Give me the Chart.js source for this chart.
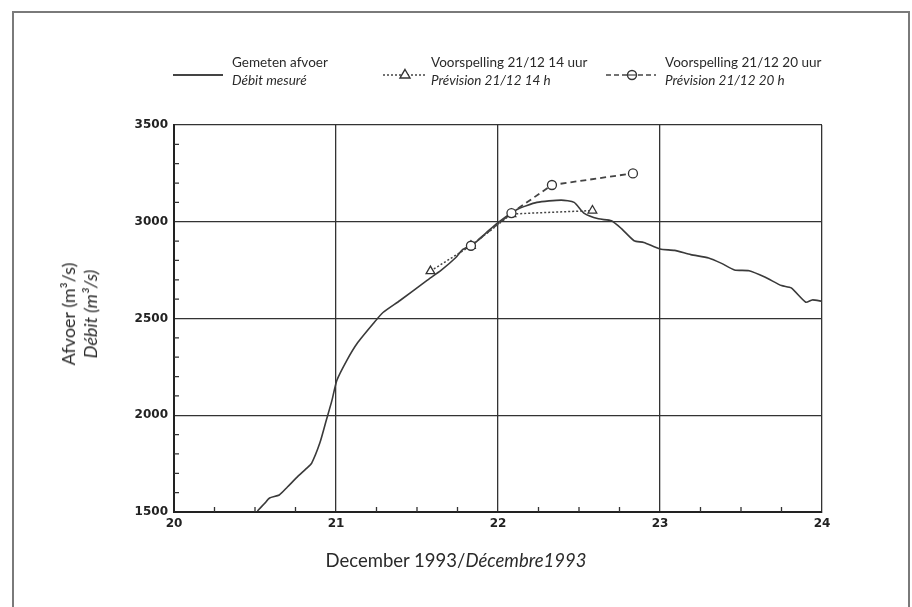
<!DOCTYPE html>
<html>
<head>
<meta charset="utf-8">
<script src="https://cdn.jsdelivr.net/npm/chart.js@4/dist/chart.umd.min.js"></script>
<style>
  body { margin: 0; background: #fff; }
  #wrap { position: relative; width: 912px; height: 607px; overflow: hidden; font-family: 'Lato', 'Open Sans', sans-serif; color: #2a2a2a; }
  #frame { position: absolute; left: 12px; top: 11px; width: 898px; height: 620px; border: 2px solid #7a7a7a; border-bottom: none; box-sizing: border-box; }
  canvas { position: absolute; left: 0; top: 0; }
  .legend-text { position: absolute; font-size: 13.5px; line-height: 18px; white-space: nowrap; }
  .legend-text i { font-style: italic; }
  .sample { position: absolute; }
  #xtitle { position: absolute; top: 549px; left: 0; width: 912px; text-align: center; font-size: 18.5px; }
  #ytitle { position: absolute; left: 79px; top: 314px; transform: translate(-50%, -50%) rotate(-90deg); font-size: 18px; line-height: 22px; text-align: center; white-space: nowrap; }
</style>
</head>
<body>
<div id="wrap">
  <div id="frame"></div>
  <canvas id="chart" width="912" height="607"></canvas>

  <!-- legend -->
  <svg class="sample" style="left:172px;top:68px" width="52" height="14">
    <line x1="1" y1="7" x2="51" y2="7" stroke="#444" stroke-width="2"/>
  </svg>
  <div class="legend-text" style="left:232px;top:53px">Gemeten afvoer<br><i>Débit mesuré</i></div>

  <svg class="sample" style="left:382px;top:66px" width="46" height="16">
    <line x1="1" y1="9" x2="45" y2="9" stroke="#444" stroke-width="1.4" stroke-dasharray="2,2"/>
    <polygon points="23,3.5 28,12 18,12" fill="#fff" stroke="#333" stroke-width="1.4"/>
  </svg>
  <div class="legend-text" style="left:431px;top:53px">Voorspelling 21/12 14 uur<br><i>Prévision 21/12 14 h</i></div>

  <svg class="sample" style="left:605px;top:66px" width="52" height="16">
    <line x1="1" y1="9" x2="51" y2="9" stroke="#444" stroke-width="1.6" stroke-dasharray="5,3"/>
    <circle cx="27" cy="9" r="4.5" fill="#fff" stroke="#333" stroke-width="1.4"/>
    <line x1="22.5" y1="9" x2="31.5" y2="9" stroke="#444" stroke-width="1.2"/>
  </svg>
  <div class="legend-text" style="left:665px;top:53px">Voorspelling 21/12 20 uur<br><i>Prévision 21/12 20 h</i></div>

  <div id="ytitle">Afvoer (m³/s)<br><i>Débit (m³/s)</i></div>
  <div id="xtitle">December 1993/<i>Décembre1993</i></div>
</div>

<script>
// measured discharge (day of December 1993, m3/s)
const measuredDays = [20.515, 20.56, 20.59, 20.65, 20.70, 20.76, 20.82, 20.85, 20.90, 20.94,
  20.975, 21.005, 21.067, 21.13, 21.23, 21.29, 21.395, 21.56, 21.65, 21.74,
  21.78, 21.85, 21.93, 22.0, 22.12, 22.24, 22.39, 22.47, 22.53, 22.62,
  22.70, 22.76, 22.84, 22.90, 23.0, 23.09, 23.19, 23.30, 23.38, 23.46,
  23.55, 23.65, 23.75, 23.81, 23.90, 23.94, 24.0];
const measuredFlow = [1505, 1545, 1572, 1588, 1629, 1680, 1727, 1753, 1856, 1974,
  2077, 2180, 2284, 2371, 2474, 2531, 2593, 2696, 2750, 2815,
  2855, 2885, 2945, 2996, 3065, 3100, 3112, 3100, 3045, 3015,
  3005, 2966, 2902, 2893, 2859, 2852, 2830, 2813, 2785, 2751,
  2747, 2713, 2670, 2658, 2584, 2596, 2589];

// forecast 21/12 14h
const fc14Days = [21.583, 21.833, 22.083, 22.583];
const fc14Flow = [2745, 2876, 3040, 3058];

// forecast 21/12 20h
const fc20Days = [21.833, 22.083, 22.333, 22.833];
const fc20Flow = [2876, 3045, 3190, 3250];

// axis ticks
const xTicks = [20, 21, 22, 23, 24];
const yTicks = [1500, 2000, 2500, 3000, 3500];
const xMinorStep = 0.25;
const yMinorStep = 100;

function toPoints(xs, ys) {
    return xs.map((x, i) => ({ x: x, y: ys[i] }));
}

const tickFont = { family: 'DejaVu Sans', size: 12, weight: 'bold' };

// small inward minor ticks along the left and bottom axes
const minorTicks = {
    id: 'minorTicks',
    afterDraw(chart) {
        const ctx = chart.ctx;
        const xs = chart.scales.x;
        const ys = chart.scales.y;
        const area = chart.chartArea;
        ctx.save();
        ctx.strokeStyle = '#333';
        ctx.lineWidth = 1.3;
        ctx.beginPath();
        for (let v = xs.min + xMinorStep; v < xs.max; v += xMinorStep) {
            if (Math.abs(v - Math.round(v)) < 1e-6) continue;
            const px = xs.getPixelForValue(v);
            ctx.moveTo(px, area.bottom);
            ctx.lineTo(px, area.bottom - 5);
        }
        for (let v = ys.min + yMinorStep; v < ys.max; v += yMinorStep) {
            if (v % 500 === 0) continue;
            const py = ys.getPixelForValue(v);
            ctx.moveTo(area.left, py);
            ctx.lineTo(area.left + 5, py);
        }
        ctx.stroke();
        ctx.restore();
    }
};

const ctx = document.getElementById('chart').getContext('2d');
new Chart(ctx, {
    type: 'line',
    data: {
        datasets: [
            {
                label: 'Gemeten afvoer',
                data: toPoints(measuredDays, measuredFlow),
                borderColor: '#3a3a3a',
                borderWidth: 1.6,
                pointRadius: 0,
                tension: 0.2,
                order: 3
            },
            {
                label: 'Voorspelling 21/12 14 uur',
                data: toPoints(fc14Days, fc14Flow),
                borderColor: '#444',
                borderWidth: 1.5,
                borderDash: [2, 2],
                pointStyle: 'triangle',
                pointRadius: 5,
                pointBackgroundColor: '#fff',
                pointBorderColor: '#333',
                pointBorderWidth: 1.3,
                tension: 0,
                order: 2
            },
            {
                label: 'Voorspelling 21/12 20 uur',
                data: toPoints(fc20Days, fc20Flow),
                borderColor: '#444',
                borderWidth: 1.8,
                borderDash: [6, 4],
                pointStyle: 'circle',
                pointRadius: 4.5,
                pointBackgroundColor: '#fff',
                pointBorderColor: '#333',
                pointBorderWidth: 1.3,
                tension: 0,
                order: 1
            }
        ]
    },
    options: {
        responsive: false,
        animation: false,
        layout: { padding: { top: 125, right: 90, left: 0, bottom: 0 } },
        plugins: {
            legend: { display: false },
            tooltip: { enabled: false }
        },
        scales: {
            x: {
                type: 'linear',
                min: xTicks[0],
                max: xTicks[xTicks.length - 1],
                afterBuildTicks(scale) { scale.ticks = xTicks.map(v => ({ value: v })); },
                afterFit(scale) { scale.height = 95; },
                grid: { color: '#333', lineWidth: 1.3, drawTicks: false },
                border: { color: '#222', width: 2 },
                ticks: { font: tickFont, color: '#222', padding: 5, maxRotation: 0,
                         callback: v => String(v) }
            },
            y: {
                min: yTicks[0],
                max: yTicks[yTicks.length - 1],
                afterBuildTicks(scale) { scale.ticks = yTicks.map(v => ({ value: v })); },
                afterFit(scale) { scale.width = 174; },
                grid: { color: '#333', lineWidth: 1.3, drawTicks: false },
                border: { color: '#222', width: 2 },
                ticks: { font: tickFont, color: '#222', padding: 6,
                         callback: v => String(v) }
            }
        }
    },
    plugins: [minorTicks]
});
</script>
</body>
</html>
